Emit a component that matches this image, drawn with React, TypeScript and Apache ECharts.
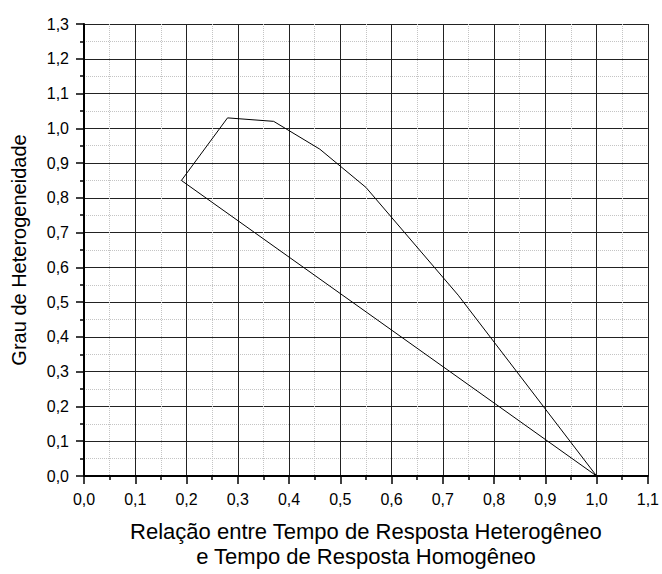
import React, { useEffect, useRef } from "react";
import * as echarts from "echarts";

// Boundary of the heterogeneity region: upper curve from (1,0) back to the
// leftmost vertex, then the straight closing edge down to (1,0).
const xValues = [1.0, 0.73, 0.55, 0.46, 0.37, 0.28, 0.19, 1.0];
const yValues = [0.0, 0.52, 0.83, 0.94, 1.02, 1.03, 0.85, 0.0];

const xAxisTitle = "Relação entre Tempo de Resposta Heterogêneo\ne Tempo de Resposta Homogêneo";
const yAxisTitle = "Grau de Heterogeneidade";

const FONT = "'Liberation Sans', Arial, sans-serif";

const fmt = (v: number) => v.toFixed(1).replace(".", ",");

export default function App() {
  const ref = useRef<HTMLDivElement>(null);

  useEffect(() => {
    if (!ref.current) return;
    const chart = echarts.init(ref.current, undefined, { renderer: "svg" });

    const axisCommon = {
      type: "value" as const,
      interval: 0.1,
      axisLine: { show: true, onZero: false, lineStyle: { color: "#000", width: 2 } },
      axisTick: { show: true, inside: false, length: 8, lineStyle: { color: "#000", width: 1.5 } },
      minorTick: { show: true, splitNumber: 2, length: 4, lineStyle: { color: "#000", width: 1.5 } },
      splitLine: { show: true, lineStyle: { color: "#222", width: 1, type: "solid" as const } },
      minorSplitLine: { show: true, lineStyle: { color: "#c4c4c4", width: 1, type: "dotted" as const } },
      axisLabel: {
        color: "#000",
        fontFamily: FONT,
        fontSize: 16,
        formatter: fmt,
      },
      nameLocation: "middle" as const,
    };

    chart.setOption({
      animation: false,
      backgroundColor: "#fff",
      grid: { left: 84, right: 13, top: 24, bottom: 95, containLabel: false },
      xAxis: {
        ...axisCommon,
        min: 0,
        max: 1.1,
        name: xAxisTitle,
        nameGap: 43,
        nameTextStyle: { color: "#000", fontFamily: FONT, fontSize: 22, lineHeight: 25 },
        axisLabel: { ...axisCommon.axisLabel, margin: 15 },
      },
      yAxis: {
        ...axisCommon,
        min: 0,
        max: 1.3,
        name: yAxisTitle,
        nameGap: 54,
        nameTextStyle: { color: "#000", fontFamily: FONT, fontSize: 20, lineHeight: 22 },
        axisLabel: { ...axisCommon.axisLabel, margin: 15 },
      },
      series: [
        {
          type: "line",
          data: xValues.map((x, i) => [x, yValues[i]]),
          showSymbol: false,
          symbol: "none",
          lineStyle: { color: "#000", width: 1 },
          z: 5,
        },
      ],
    });

    return () => chart.dispose();
  }, []);

  return (
    <div
      ref={ref}
      style={{ position: "absolute", left: 0, top: 0, width: 662, height: 574 }}
    />
  );
}
